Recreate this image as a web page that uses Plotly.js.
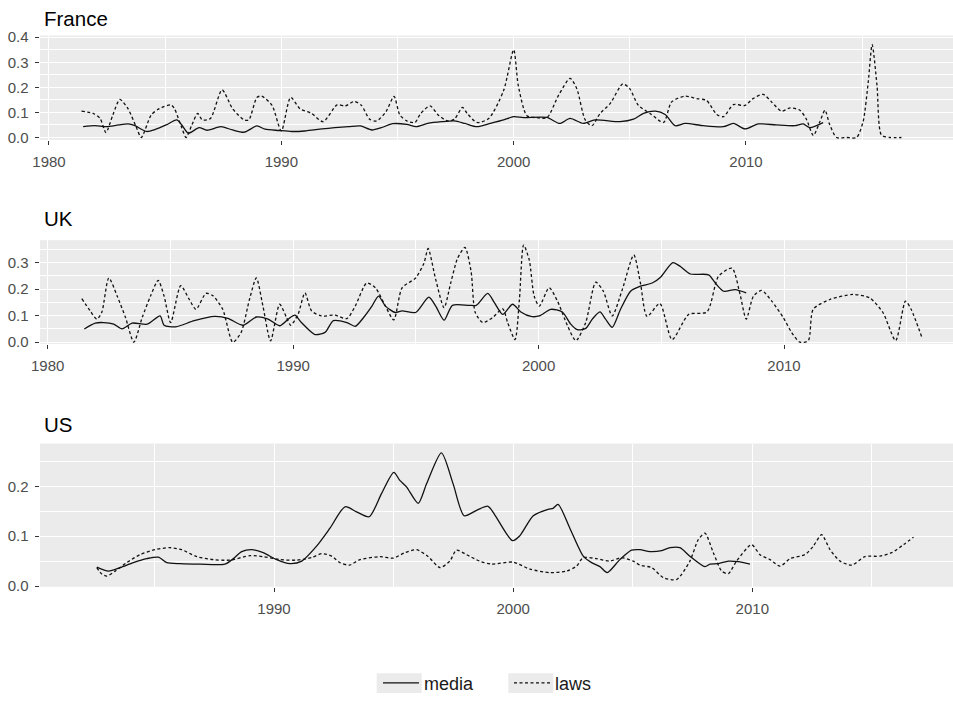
<!DOCTYPE html>
<html>
<head>
<meta charset="utf-8">
<script src="https://cdn.plot.ly/plotly-3.0.1.min.js"></script>
<style>html,body{margin:0;padding:0;background:#fff;}#chart{width:953px;height:702px;}</style>
</head>
<body>
<div id="chart"></div>
<script>
// ---------------- data ----------------
const panels = ["France", "UK", "US"];
const seriesNames = ["media", "laws"];

const franceMediaYear = [1981.47,1981.97,1982.47,1983.0,1983.4,1983.7,1984.2,1984.6,1985.04,1985.5,1985.7,1986.0,1986.46,1986.8,1987.4,1987.9,1988.4,1988.95,1989.3,1989.9,1990.45,1991.0,1991.75,1992.3,1992.9,1993.4,1993.9,1994.3,1994.8,1995.4,1995.8,1996.3,1996.9,1997.45,1997.9,1998.42,1999.0,1999.57,2000.0,2000.43,2001.43,2001.98,2002.43,2003.0,2003.5,2004.58,2005.16,2005.59,2006.1,2006.52,2006.95,2007.38,2008.17,2009.03,2009.46,2009.96,2010.53,2011.3,2012.1,2012.46,2012.75,2013.32];
const franceMediaValue = [0.043,0.047,0.043,0.05,0.054,0.047,0.024,0.033,0.05,0.07,0.052,0.017,0.039,0.029,0.043,0.03,0.021,0.046,0.033,0.028,0.024,0.026,0.034,0.039,0.043,0.046,0.03,0.039,0.055,0.052,0.043,0.056,0.063,0.066,0.056,0.043,0.056,0.07,0.083,0.079,0.08,0.056,0.076,0.056,0.07,0.063,0.073,0.096,0.105,0.092,0.047,0.056,0.047,0.043,0.056,0.034,0.054,0.05,0.047,0.054,0.039,0.059];

const franceLawsYear = [1981.4,1981.9,1982.2,1982.45,1982.75,1983.05,1983.4,1983.75,1983.97,1984.4,1984.75,1985.25,1985.4,1985.7,1985.9,1986.15,1986.4,1986.6,1986.95,1987.45,1987.9,1988.4,1988.6,1988.95,1989.15,1989.6,1990.0,1990.4,1990.8,1991.3,1991.8,1992.4,1992.75,1993.15,1993.45,1993.8,1994.1,1994.5,1994.85,1995.1,1995.4,1995.75,1996.0,1996.4,1996.75,1997.15,1997.45,1997.8,1998.0,1998.42,1998.93,1999.57,2000.0,2000.2,2000.57,2001.0,2001.43,2001.93,2002.43,2002.72,2003.08,2003.37,2003.72,2004.15,2004.7,2005.0,2005.37,2005.87,2006.45,2006.8,2007.38,2007.88,2008.3,2008.74,2009.03,2009.46,2009.96,2010.3,2010.74,2011.1,2011.53,2011.9,2012.32,2012.6,2012.9,2013.18,2013.4,2013.6,2013.9,2014.33,2014.76,2015.04,2015.26,2015.43,2015.64,2015.83,2016.2,2016.69];
const franceLawsValue = [0.105,0.096,0.076,0.02,0.09,0.152,0.115,0.043,0.0,0.09,0.115,0.13,0.115,0.043,0.0,0.05,0.096,0.07,0.076,0.19,0.115,0.07,0.07,0.16,0.165,0.128,0.026,0.16,0.115,0.096,0.063,0.13,0.126,0.144,0.128,0.073,0.066,0.102,0.164,0.09,0.066,0.06,0.096,0.126,0.09,0.066,0.073,0.12,0.096,0.06,0.076,0.188,0.35,0.207,0.087,0.079,0.079,0.168,0.236,0.194,0.07,0.047,0.096,0.135,0.214,0.194,0.128,0.096,0.06,0.142,0.165,0.155,0.148,0.092,0.083,0.131,0.128,0.155,0.172,0.142,0.105,0.118,0.109,0.073,0.008,0.063,0.109,0.052,0.0,0.0,0.0,0.063,0.22,0.371,0.207,0.01,0.0,0.0];

const ukMediaYear = [1981.49,1981.94,1982.28,1982.69,1983.03,1983.44,1984.06,1984.58,1984.74,1985.22,1985.97,1986.79,1987.34,1987.95,1988.5,1988.98,1989.45,1989.8,1990.07,1990.34,1990.89,1991.3,1991.64,1992.19,1992.53,1992.87,1993.21,1993.48,1993.76,1994.16,1994.44,1994.99,1995.53,1995.81,1996.15,1996.49,1997.17,1997.46,1997.93,1998.2,1998.54,1998.94,1999.28,1999.69,2000.03,2000.5,2000.97,2001.31,2001.58,2001.92,2002.19,2002.5,2002.73,2003.0,2003.34,2003.75,2004.15,2004.63,2004.97,2005.47,2005.78,2006.18,2006.93,2007.2,2007.54,2008.01,2008.46];
const ukMediaValue = [0.05,0.072,0.074,0.068,0.05,0.072,0.068,0.099,0.064,0.058,0.081,0.097,0.09,0.064,0.095,0.087,0.062,0.087,0.102,0.074,0.029,0.037,0.081,0.074,0.06,0.093,0.136,0.174,0.136,0.112,0.118,0.112,0.17,0.136,0.083,0.139,0.139,0.139,0.184,0.149,0.105,0.143,0.114,0.097,0.099,0.124,0.114,0.068,0.047,0.052,0.087,0.114,0.087,0.056,0.124,0.192,0.211,0.223,0.245,0.3,0.285,0.257,0.254,0.223,0.192,0.198,0.186];

const ukLawsYear = [1981.39,1981.73,1982.0,1982.2,1982.49,1982.83,1983.17,1983.51,1983.85,1984.19,1984.5,1984.74,1985.01,1985.42,1985.77,1986.04,1986.45,1986.72,1987.13,1987.54,1987.88,1988.22,1988.5,1988.77,1989.08,1989.45,1989.73,1989.9,1990.2,1990.48,1990.75,1991.16,1991.7,1992.19,1992.53,1993.0,1993.35,1993.76,1994.1,1994.44,1994.99,1995.33,1995.5,1995.81,1996.15,1996.42,1996.7,1997.0,1997.25,1997.42,1997.73,1998.13,1998.54,1998.74,1999.04,1999.22,1999.39,1999.62,1999.82,2000.03,2000.43,2000.77,2001.18,2001.52,2001.92,2002.33,2002.64,2003.0,2003.41,2003.88,2004.15,2004.42,2004.94,2005.44,2006.12,2006.86,2007.33,2007.88,2008.21,2008.46,2008.76,2009.09,2009.5,2009.97,2010.31,2010.65,2010.99,2011.19,2011.87,2012.81,2013.49,2014.03,2014.55,2014.95,2015.18,2015.63];
const ukLawsValue = [0.164,0.118,0.087,0.112,0.242,0.174,0.093,0.0,0.093,0.174,0.233,0.174,0.074,0.213,0.161,0.124,0.184,0.176,0.124,0.0,0.037,0.161,0.242,0.136,0.005,0.143,0.093,0.064,0.105,0.186,0.118,0.099,0.102,0.089,0.136,0.223,0.205,0.136,0.084,0.205,0.242,0.298,0.353,0.236,0.13,0.223,0.316,0.357,0.267,0.112,0.074,0.093,0.126,0.074,0.01,0.161,0.366,0.31,0.174,0.136,0.205,0.155,0.062,0.006,0.074,0.226,0.192,0.099,0.198,0.329,0.223,0.097,0.146,0.01,0.105,0.114,0.248,0.279,0.18,0.087,0.174,0.195,0.155,0.093,0.037,0.0,0.006,0.124,0.161,0.18,0.167,0.112,0.006,0.155,0.124,0.015];

const usMediaYear = [1982.59,1983.08,1983.57,1984.12,1984.68,1985.17,1985.52,1986.07,1986.91,1987.95,1988.3,1988.65,1989.07,1989.55,1990.11,1990.67,1991.16,1991.78,1992.34,1992.97,1993.45,1993.98,1994.5,1995.01,1995.26,1995.54,1996.03,1996.38,1997.0,1997.49,1997.95,1998.47,1998.95,1999.23,1999.97,2000.28,2000.84,2001.46,2001.67,2001.88,2002.37,2002.93,2003.28,2003.63,2003.93,2004.46,2004.95,2005.3,2005.72,2006.21,2006.56,2006.97,2007.39,2008.02,2008.23,2008.58,2009.0,2009.41,2009.9];
const usMediaValue = [0.038,0.03,0.037,0.047,0.055,0.058,0.047,0.045,0.044,0.044,0.055,0.069,0.073,0.067,0.053,0.045,0.05,0.08,0.116,0.159,0.149,0.139,0.186,0.228,0.212,0.199,0.166,0.205,0.267,0.205,0.141,0.152,0.16,0.143,0.091,0.101,0.141,0.154,0.156,0.164,0.116,0.06,0.047,0.039,0.027,0.053,0.072,0.073,0.069,0.071,0.077,0.077,0.06,0.039,0.044,0.045,0.05,0.049,0.044];

const usLawsYear = [1982.59,1982.8,1983.01,1983.36,1983.84,1984.4,1985.03,1985.65,1986.14,1986.77,1987.47,1988.16,1989.0,1989.55,1990.25,1990.95,1991.57,1991.99,1992.41,1992.76,1993.15,1993.6,1994.43,1994.99,1995.47,1995.96,1996.45,1996.94,1997.35,1997.63,1998.05,1998.6,1999.09,2000.0,2000.7,2001.53,2002.23,2002.65,2002.93,2003.49,2004.04,2004.53,2005.02,2005.3,2005.79,2006.28,2006.83,2007.39,2007.74,2008.02,2008.37,2008.72,2009.0,2009.34,2009.97,2010.32,2010.74,2011.16,2011.58,2012.2,2012.55,2012.9,2013.25,2013.67,2014.16,2014.71,2015.34,2015.83,2016.32,2016.74];
const usLawsValue = [0.037,0.024,0.02,0.03,0.047,0.063,0.073,0.077,0.073,0.059,0.053,0.052,0.061,0.059,0.053,0.052,0.057,0.065,0.06,0.047,0.042,0.053,0.059,0.056,0.067,0.073,0.059,0.037,0.05,0.072,0.063,0.05,0.044,0.048,0.034,0.027,0.03,0.04,0.057,0.055,0.05,0.057,0.05,0.042,0.037,0.017,0.013,0.05,0.093,0.106,0.067,0.03,0.025,0.05,0.083,0.063,0.053,0.04,0.055,0.063,0.08,0.103,0.073,0.05,0.042,0.059,0.06,0.067,0.083,0.098];

const xTickVals = [1980, 1990, 2000, 2010];
const xMinorVals = [1985, 1995, 2005, 2015];
const yTickVals = [0.0, 0.1, 0.2, 0.3, 0.4];
const yTickText = ["0.0", "0.1", "0.2", "0.3", "0.4"];
const yMinorVals = [0.05, 0.15, 0.25, 0.35];

// ---------------- traces ----------------
const H = 702, W = 953, ML = 40;
const mediaLine = {color: "#111111", width: 1.3, shape: "spline", smoothing: 0.7};
const lawsLine = {color: "#111111", width: 1.3, shape: "spline", smoothing: 0.7, dash: "3px,2.5px"};

const seriesData = [
  [franceMediaYear, franceMediaValue, franceLawsYear, franceLawsValue],
  [ukMediaYear, ukMediaValue, ukLawsYear, ukLawsValue],
  [usMediaYear, usMediaValue, usLawsYear, usLawsValue]
];

const traces = [];
seriesData.forEach((d, i) => {
  const ax = i === 0 ? "" : String(i + 1);
  traces.push({x: d[0], y: d[1], type: "scatter", mode: "lines", name: seriesNames[0],
    legendgroup: "media", showlegend: i === 0, line: mediaLine, xaxis: "x" + ax, yaxis: "y" + ax, hoverinfo: "skip"});
  traces.push({x: d[2], y: d[3], type: "scatter", mode: "lines", name: seriesNames[1],
    legendgroup: "laws", showlegend: i === 0, line: lawsLine, xaxis: "x" + ax, yaxis: "y" + ax, hoverinfo: "skip"});
});

// ---------------- layout ----------------
function py(px) { return 1 - px / H; }
function pxx(px) { return (px - ML) / (W - ML); }
const panelPx = [[36, 141.67], [243.33, 348.33], [449.33, 594.33]];
const xRanges = [[1979.613, 2018.91], [1979.686, 2016.886], [1980.215, 2018.392]];
const yRanges = [[-0.0094, 0.4067], [-0.0062, 0.3843], [-0.0013, 0.2858]];
const titlePx = [18.5, 221.5, 430.5];

const tickFont = {family: "Liberation Sans, Arial, sans-serif", size: 15, color: "#4D4D4D"};

function xAxis(i) {
  return {
    domain: [0, 1], range: xRanges[i], anchor: i === 0 ? "y" : "y" + (i + 1),
    tickmode: "array", tickvals: xTickVals, ticktext: xTickVals.map(String),
    ticks: "outside", ticklen: 4.5, tickwidth: 1, tickcolor: "#333333",
    showgrid: true, gridcolor: "#FFFFFF", gridwidth: 1,
    minor: {tickmode: "array", tickvals: xMinorVals, showgrid: true, gridcolor: "#FFFFFF", gridwidth: 1, ticks: ""},
    zeroline: false, showline: false, tickfont: tickFont, ticklabelstandoff: 4,
    fixedrange: true
  };
}
function yAxis(i) {
  const [top, bottom] = panelPx[i];
  return {
    domain: [py(bottom), py(top)], range: yRanges[i], anchor: i === 0 ? "x" : "x" + (i + 1),
    tickmode: "array", tickvals: yTickVals, ticktext: yTickText,
    ticks: "outside", ticklen: 4.5, tickwidth: 1, tickcolor: "#333333",
    showgrid: true, gridcolor: "#FFFFFF", gridwidth: 1,
    minor: {tickmode: "array", tickvals: yMinorVals, showgrid: true, gridcolor: "#FFFFFF", gridwidth: 1, ticks: ""},
    zeroline: false, showline: false, tickfont: tickFont, ticklabelstandoff: 3,
    fixedrange: true
  };
}

// grey legend key backgrounds (ggplot style)
const keyBoxesPx = [[376.7, 421.7], [508.3, 553.3]];
const shapes = keyBoxesPx.map(b => ({
  type: "rect", xref: "paper", yref: "paper", layer: "above",
  x0: pxx(b[0]), x1: pxx(b[1]), y0: py(702), y1: py(682),
  fillcolor: "#EBEBEB", line: {width: 0}
}));

const layout = {
  width: W, height: H,
  margin: {l: ML, r: 0, t: 0, b: 0, pad: 0},
  paper_bgcolor: "#FFFFFF", plot_bgcolor: "#EBEBEB",
  font: {family: "Liberation Sans, Arial, sans-serif", color: "#000000"},
  showlegend: true,
  legend: {orientation: "h", x: pxx(378), xanchor: "left", y: py(692), yanchor: "middle",
    font: {size: 18, color: "#1A1A1A"}, bgcolor: "rgba(0,0,0,0)", itemwidth: 36,
    entrywidth: 80, entrywidthmode: "pixels", traceorder: "normal"},
  shapes: shapes,
  annotations: panels.map((p, i) => ({
    text: p, xref: "paper", yref: "paper", x: 2 / 913, y: py(titlePx[i]),
    xanchor: "left", yanchor: "middle", showarrow: false,
    font: {size: 20.5, color: "#000000"}
  }))
};
layout.xaxis = xAxis(0); layout.yaxis = yAxis(0);
layout.xaxis2 = xAxis(1); layout.yaxis2 = yAxis(1);
layout.xaxis3 = xAxis(2); layout.yaxis3 = yAxis(2);

Plotly.newPlot("chart", traces, layout, {displayModeBar: false, staticPlot: true});
</script>
</body>
</html>
